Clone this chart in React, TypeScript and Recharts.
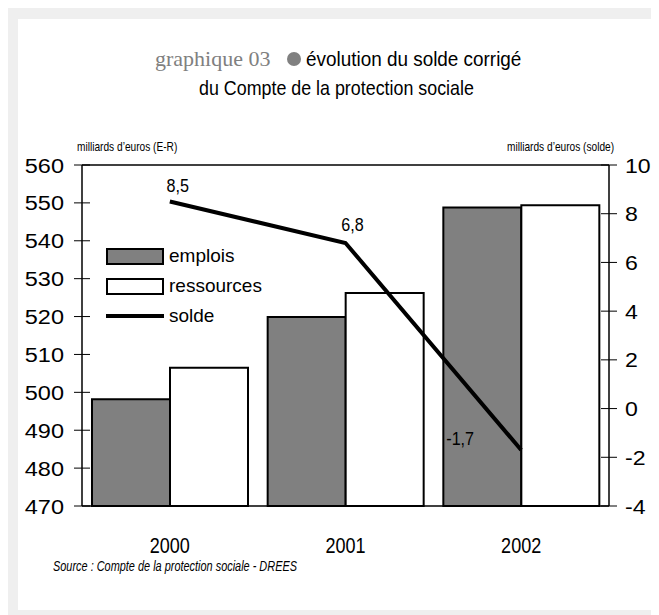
import {
  ComposedChart,
  Bar,
  Line,
  XAxis,
  YAxis,
  ReferenceLine,
  Legend,
  LabelList,
} from "recharts";

const years = ["2000", "2001", "2002"];
const emplois = [498.2, 519.9, 548.8];
const ressources = [506.5, 526.2, 549.4];
const solde = [8.5, 6.8, -1.7];
const leftTicks = [470, 480, 490, 500, 510, 520, 530, 540, 550, 560];
const rightTicks = [-4, -2, 0, 2, 4, 6, 8, 10];

const data = years.map((year, i) => ({
  year,
  emplois: emplois[i],
  ressources: ressources[i],
  solde: solde[i],
}));

const SANS = '"Liberation Sans", Arial, sans-serif';
const GREY = "#808080";

// the reference uses a condensed face, so squeeze a regular one
const Narrow = ({ children, size, sx, style }: any) => (
  <span
    style={{
      display: "inline-block",
      fontFamily: SANS,
      fontSize: size,
      transform: `scaleX(${sx})`,
      transformOrigin: "left center",
      whiteSpace: "nowrap",
      ...style,
    }}
  >
    {children}
  </span>
);

const LeftTick = (props: any) => {
  const { x, y, payload } = props;
  return (
    <g>
      <line x1={x - 8} x2={x + 8} y1={y} y2={y} stroke="#000" strokeWidth={1} />
      <text
        transform={`translate(${x - 18},${y}) scale(1.12,1)`}
        dy="0.36em"
        textAnchor="end"
        fontSize={21}
        fontFamily={SANS}
        fill="#000"
      >
        {payload.value}
      </text>
    </g>
  );
};

const RightTick = (props: any) => {
  const { x, y, payload } = props;
  return (
    <g>
      <line x1={x - 8} x2={x + 8} y1={y} y2={y} stroke="#000" strokeWidth={1} />
      <text
        transform={`translate(${x + 16},${y}) scale(1.1,1)`}
        dy="0.36em"
        textAnchor="start"
        fontSize={21}
        fontFamily={SANS}
        fill="#000"
      >
        {payload.value}
      </text>
    </g>
  );
};

const YearTick = (props: any) => {
  const { x, y, payload } = props;
  return (
    <text
      transform={`translate(${x},${y}) scale(0.82,1)`}
      dy="0.72em"
      textAnchor="middle"
      fontSize={22}
      fontFamily={SANS}
      fill="#000"
    >
      {payload.value}
    </text>
  );
};

// label offsets relative to each point of the solde line
const labelShift = [
  { dx: 8, dy: -10 },
  { dx: 7, dy: -12 },
  { dx: -61, dy: -5 },
];

const SoldeLabel = (props: any) => {
  const { x, y, value, index } = props;
  const s = labelShift[index] ?? { dx: 0, dy: -12 };
  return (
    <text
      transform={`translate(${x + s.dx},${y + s.dy}) scale(0.85,1)`}
      textAnchor="middle"
      fontSize={19}
      fontFamily={SANS}
      fill="#000"
    >
      {String(value).replace(".", ",")}
    </text>
  );
};

const LegendBox = () => {
  const row = { display: "flex", alignItems: "center", height: 30 } as const;
  const text = { fontFamily: SANS, fontSize: 19, marginLeft: 5, color: "#000" };
  return (
    <div>
      <div style={row}>
        <div style={{ width: 54, height: 13, background: GREY, border: "2px solid #000" }} />
        <span style={text}>emplois</span>
      </div>
      <div style={row}>
        <div style={{ width: 54, height: 13, background: "#fff", border: "2px solid #000" }} />
        <span style={text}>ressources</span>
      </div>
      <div style={row}>
        <div style={{ width: 58, height: 4, background: "#000" }} />
        <span style={text}>solde</span>
      </div>
    </div>
  );
};

export default function App() {
  return (
    <div style={{ position: "relative", width: 651, height: 607, background: "#efefef" }}>
      <div
        style={{
          position: "absolute",
          left: 10,
          top: 11,
          width: 639,
          height: 591,
          background: "#fff",
        }}
      />
      <div
        style={{
          position: "absolute",
          left: 147,
          top: 36,
          lineHeight: "29px",
          whiteSpace: "nowrap",
          fontFamily: '"Liberation Serif", serif',
          fontSize: 22,
          color: GREY,
        }}
      >
        graphique 03
      </div>
      <div
        style={{
          position: "absolute",
          left: 279,
          top: 44,
          width: 14,
          height: 14,
          borderRadius: 7,
          background: GREY,
        }}
      />
      <div style={{ position: "absolute", left: 298, top: 36, lineHeight: "29px" }}>
        <Narrow size={21} sx={0.9}>
          évolution du solde corrigé
        </Narrow>
      </div>
      <div style={{ position: "absolute", left: 191, top: 65, lineHeight: "29px" }}>
        <Narrow size={21} sx={0.85}>
          du Compte de la protection sociale
        </Narrow>
      </div>
      <div style={{ position: "absolute", left: 69, top: 129 }}>
        <Narrow size={13} sx={0.78}>
          milliards d’euros (E-R)
        </Narrow>
      </div>
      <div style={{ position: "absolute", left: 499, top: 129 }}>
        <Narrow size={13} sx={0.78}>
          milliards d’euros (solde)
        </Narrow>
      </div>
      <div style={{ position: "absolute", left: 45, top: 549 }}>
        <Narrow size={14} sx={0.78} style={{ fontStyle: "italic" }}>
          Source : Compte de la protection sociale - DREES
        </Narrow>
      </div>
      <div style={{ position: "absolute", left: 0, top: 0 }}>
        <ComposedChart
          width={651}
          height={607}
          data={data}
          margin={{ top: 157, right: 10, bottom: 69, left: 14 }}
          barCategoryGap={10}
          barGap={0}
        >
          <XAxis
            dataKey="year"
            tickLine={false}
            tickSize={0}
            tickMargin={31}
            axisLine={{ stroke: "#000", strokeWidth: 1.5 }}
            height={40}
            tick={<YearTick />}
          />
          <YAxis
            yAxisId="left"
            domain={[470, 560]}
            ticks={leftTicks}
            width={60}
            tickSize={0}
            tickMargin={0}
            tickLine={false}
            axisLine={{ stroke: "#000", strokeWidth: 1.5 }}
            tick={<LeftTick />}
            interval={0}
          />
          <YAxis
            yAxisId="right"
            orientation="right"
            domain={[-4, 10]}
            ticks={rightTicks}
            width={40}
            tickSize={0}
            tickMargin={0}
            tickLine={false}
            axisLine={{ stroke: "#000", strokeWidth: 1.5 }}
            tick={<RightTick />}
            interval={0}
          />
          <ReferenceLine yAxisId="left" y={560} stroke="#000" strokeWidth={1.5} />
          <Legend
            layout="vertical"
            align="center"
            verticalAlign="middle"
            content={<LegendBox />}
            wrapperStyle={{ position: "absolute", left: 98, top: 233, width: 200 }}
          />
          <Bar
            yAxisId="left"
            dataKey="emplois"
            fill={GREY}
            stroke="#000"
            strokeWidth={2}
            isAnimationActive={false}
          />
          <Bar
            yAxisId="left"
            dataKey="ressources"
            fill="#fff"
            stroke="#000"
            strokeWidth={2}
            isAnimationActive={false}
          />
          <Line
            yAxisId="right"
            dataKey="solde"
            stroke="#000"
            strokeWidth={4}
            dot={false}
            type="linear"
            isAnimationActive={false}
          >
            <LabelList dataKey="solde" content={<SoldeLabel />} />
          </Line>
        </ComposedChart>
      </div>
    </div>
  );
}
